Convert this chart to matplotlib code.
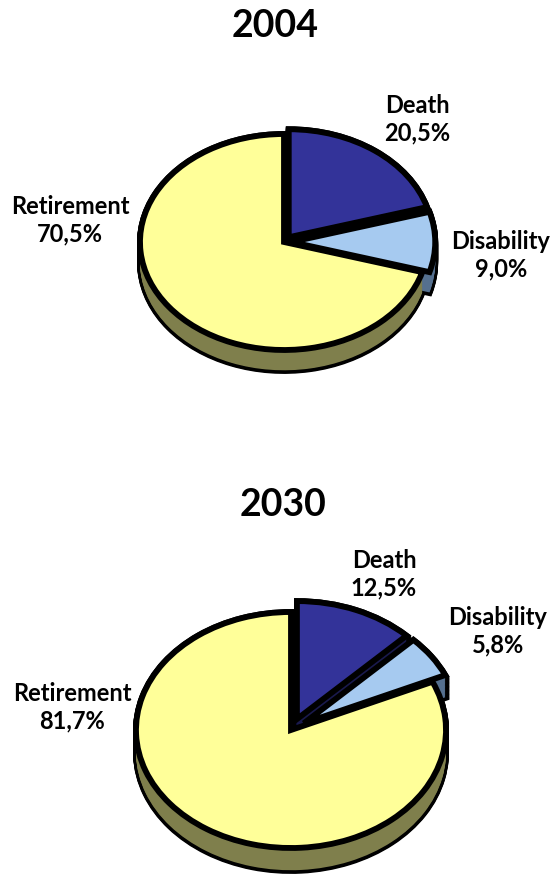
import numpy as np
import matplotlib
matplotlib.use("Agg")
import matplotlib.pyplot as plt

W, H = 553, 877

categories = ["Death", "Disability", "Retirement"]
values_2004 = [20.5, 9.0, 70.5]
values_2030 = [12.5, 5.8, 81.7]
labels_2004 = ["20,5%", "9,0%", "70,5%"]
labels_2030 = ["12,5%", "5,8%", "81,7%"]

top_colors = ["#333399", "#A6CAF0", "#FFFF99"]
side_colors = ["#1A1A4D", "#55708F", "#7F7F4C"]

plt.rcParams["font.family"] = ["Lato", "DejaVu Sans"]

fig = plt.figure(figsize=(W / 100, H / 100), dpi=100)
fig.patch.set_facecolor("white")


def draw_pie(values, explode, cx, cy, rx, ry, depth):
    # axes box in pixels, x/y limits of +-1.5 radii, so the circle gets squashed
    ax = fig.add_axes([(cx - 1.5 * rx) / W, 1 - (cy + 1.5 * ry) / H, 3 * rx / W, 3 * ry / H])
    d = depth / ry
    offsets = np.linspace(d, 0, 30)
    common = dict(explode=explode, startangle=90, counterclock=False, frame=False)
    # black silhouette first, then the wall colour inside it
    for off in offsets:
        ax.pie(values, colors=["black"] * 3, center=(0, -off),
               wedgeprops=dict(edgecolor="black", linewidth=4.2, joinstyle="miter"), **common)
    for off in offsets[1:]:
        ax.pie(values, colors=side_colors, center=(0, -off),
               wedgeprops=dict(edgecolor="none", linewidth=0), **common)
    ax.pie(values, colors=top_colors, center=(0, 0),
           wedgeprops=dict(edgecolor="black", linewidth=4.2, joinstyle="miter"), **common)
    ax.set_aspect("auto")
    ax.set_xlim(-1.5, 1.5)
    ax.set_ylim(-1.5, 1.5)
    ax.patch.set_alpha(0)


def label(x, y, s, size=17):
    fig.text(x / W, 1 - y / H, s, ha="center", va="center", fontsize=size,
             fontweight="bold", color="black", linespacing=1.22)


draw_pie(values_2004, [0.055, 0.05, 0], 284, 242, 144, 108, 21)
draw_pie(values_2030, [0.1, 0.1, 0], 291, 730, 155, 118, 23)

label(275, 26, "2004", 27)
label(283, 505, "2030", 27)

label(417, 119, categories[0] + "\n" + labels_2004[0])
label(501, 255, categories[1] + "\n" + labels_2004[1])
label(70, 220, categories[2] + "\n" + labels_2004[2])

label(384, 574, categories[0] + "\n" + labels_2030[0])
label(498, 631, categories[1] + "\n" + labels_2030[1])
label(72, 707, categories[2] + "\n" + labels_2030[2])

fig.savefig("out.png", dpi=100)
